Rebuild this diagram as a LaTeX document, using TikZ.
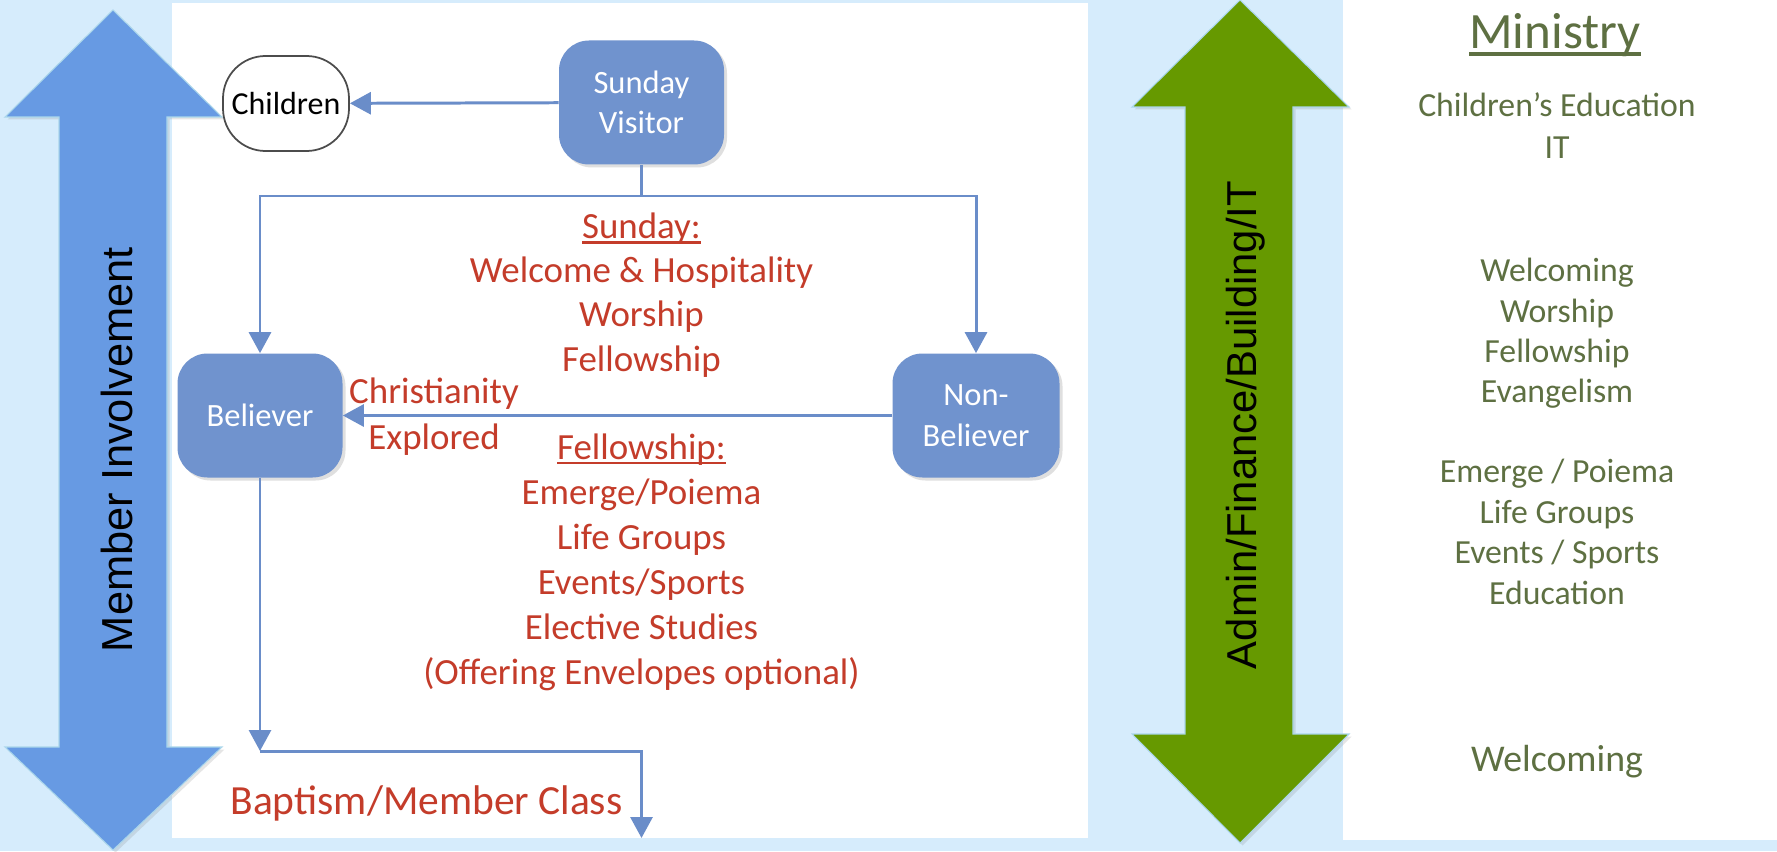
\documentclass[tikz,border=0pt]{standalone}
\usepackage{fontspec}
\setmainfont{Carlito}
\newfontfamily\arialfont{Liberation Sans}
\usetikzlibrary{arrows.meta,positioning,calc,shadows}

\definecolor{bgblue}{RGB}{214,236,252}
\definecolor{memberblue}{RGB}{103,154,227}
\definecolor{boxblue}{RGB}{112,147,206}
\definecolor{lineblue}{RGB}{106,141,201}
\definecolor{listred}{RGB}{196,60,42}
\definecolor{admingreen}{RGB}{102,153,0}
\definecolor{ministrygreen}{RGB}{94,112,66}
\definecolor{arrowedge}{RGB}{170,214,235}

\newcommand{\thickul}[1]{\setbox0=\hbox{#1}\leavevmode\rlap{\rule[-0.14em]{\wd0}{0.07em}}\box0}

\begin{document}
\begin{tikzpicture}[
    stage/.style={rectangle, rounded corners=0.6cm, fill=boxblue, text=white, minimum width=3.3cm, minimum height=2.48cm, align=center, font=\fontsize{18.5}{23}\selectfont, drop shadow={shadow xshift=0.06cm, shadow yshift=-0.06cm, opacity=0.25}},
    kids/.style={rectangle, rounded corners=0.85cm, draw=black!70, line width=1pt, fill=white, minimum width=2.52cm, minimum height=1.9cm, font=\fontsize{18.2}{22}\selectfont},
    arrow/.style={-{Triangle[length=0.42cm, width=0.44cm]}, line width=1.7pt, lineblue},
    link/.style={line width=1.7pt, lineblue},
    redlist/.style={text=listred, align=center, font=\fontsize{21}{25.2}\selectfont},
    minlist/.style={text=ministrygreen, align=center, font=\fontsize{19.2}{23}\selectfont},
    bigarrow/.style={draw=arrowedge, line width=0.6pt, drop shadow={shadow xshift=0.05cm, shadow yshift=-0.05cm, opacity=0.2}},
    sidelabel/.style={font=\arialfont\fontsize{24.7}{28}\selectfont, rotate=90}
]

% Background and panels
\useasboundingbox (0,0) rectangle (35.54,17.02);
\fill[bgblue] (0,0) rectangle (35.54,17.02);
\fill[white] (3.44,0.26) rectangle (21.76,16.96);
\fill[white] (26.86,0.22) rectangle (35.54,17.02);

% Side arrows
\fill[memberblue, bigarrow] (2.26,16.82) -- (4.44,14.68) -- (3.34,14.68) -- (3.34,2.08) -- (4.44,2.08) -- (2.26,0.02)
    -- (0.10,2.08) -- (1.18,2.08) -- (1.18,14.68) -- (0.10,14.68) -- cycle;
\fill[admingreen, bigarrow] (24.80,17.02) -- (26.98,14.88) -- (25.86,14.88) -- (25.86,2.34) -- (26.98,2.34) -- (24.80,0.16)
    -- (22.64,2.34) -- (23.70,2.34) -- (23.70,14.88) -- (22.64,14.88) -- cycle;
\node[sidelabel] (member) at (2.34, 8.03) {Member Involvement};
\node[sidelabel, font=\arialfont\fontsize{23.8}{28}\selectfont] (admin) at (24.92, 8.52) {Admin/Finance/Building/IT};

% Flow nodes
\node[stage] (visitor) at (12.83, 14.97) {Sunday\\Visitor};
\node[kids] (children) at (5.72, 14.95) {Children};
\node[stage] (believer) at (5.20, 8.71) {Believer};
\node[stage, minimum width=3.34cm] (nonbeliever) at (19.52, 8.71) {Non-\\Believer};

\coordinate (fork) at (12.83, 13.10);
\coordinate (join) at (5.20, 2.00);
\coordinate (exit) at (12.83, 0.26);

% Connectors
\draw[arrow] (visitor) -- (children);
\draw[link] (visitor) -- (fork);
\draw[arrow] (fork) -| (believer);
\draw[arrow] (fork) -| (nonbeliever);
\draw[arrow] (nonbeliever) -- (believer);
\draw[arrow] (believer) -- (join);
\draw[arrow] (join) -| (exit);

% Activities
\node[redlist] (sundaylist) at (12.83, 11.12) {\thickul{Sunday:}\\Welcome \& Hospitality\\Worship\\Fellowship};
\node[redlist, font=\fontsize{21}{26.2}\selectfont] (explored) at (8.68, 8.68) {Christianity\\Explored};
\node[redlist, font=\fontsize{21}{25.6}\selectfont] (fellowlist) at (12.83, 5.78) {\thickul{Fellowship:}\\Emerge/Poiema\\Life Groups\\Events/Sports\\Elective Studies\\(Offering Envelopes optional)};
\node[redlist, font=\fontsize{23.6}{28}\selectfont] (baptism) at (8.53, 0.96) {Baptism/Member Class};

% Ministry column
\node[minlist, font=\fontsize{29}{34}\selectfont] (ministry) at (31.10, 16.32) {\thickul{Ministry}};
\node[minlist, font=\fontsize{19.2}{23.9}\selectfont] (edu) at (31.14, 14.50) {Children’s Education\\IT};
\node[minlist] (sundaymin) at (31.14, 10.35) {Welcoming\\Worship\\Fellowship\\Evangelism};
\node[minlist] (groupmin) at (31.14, 6.38) {Emerge / Poiema\\Life Groups\\Events / Sports\\Education};
\node[minlist, font=\fontsize{21.5}{26}\selectfont] (welcome) at (31.14, 1.78) {Welcoming};

\end{tikzpicture}
\end{document}
